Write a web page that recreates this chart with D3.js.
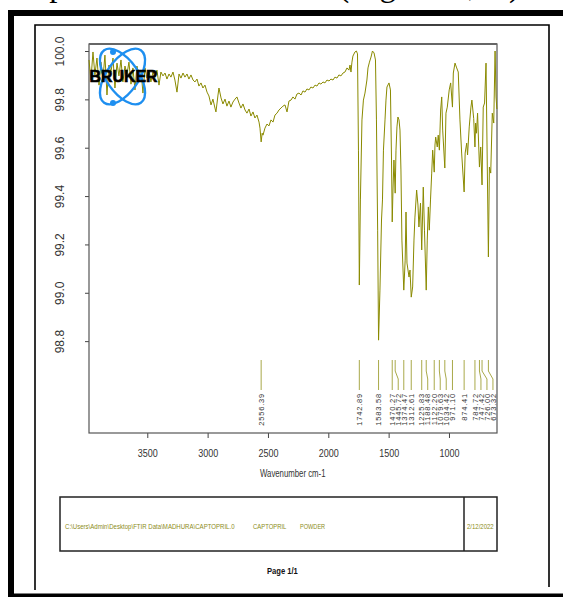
<!DOCTYPE html>
<html>
<head>
<meta charset="utf-8">
<script src="https://cdn.jsdelivr.net/npm/d3@7"></script>
<style>
body { margin: 0; background: #fff; }
svg { display: block; font-family: "Liberation Sans", Arial, sans-serif; }
</style>
</head>
<body>
<div id="chart"></div>
<script>
// FTIR spectrum of captopril
var wavenumbers = [3983, 3967, 3950, 3934, 3917, 3900, 3884, 3867, 3851, 3834, 3818, 3801, 3784, 3768, 3751, 3735,
	3718, 3702, 3685, 3668, 3652, 3635, 3619, 3602, 3586, 3569, 3552, 3536, 3519, 3503, 3486, 3470, 3453, 3436,
	3420, 3403, 3387, 3370, 3353, 3337, 3320, 3304, 3287, 3271, 3254, 3237, 3221, 3204, 3188, 3171, 3155, 3138,
	3121, 3105, 3088, 3072, 3055, 3039, 3022, 3005, 2989, 2972, 2956, 2939, 2931, 2914, 2906, 2889, 2873, 2856,
	2840, 2823, 2807, 2790, 2773, 2757, 2740, 2724, 2707, 2690, 2674, 2657, 2641, 2624, 2608, 2591, 2574, 2566,
	2556.39, 2548, 2541, 2525, 2508, 2492, 2475, 2458, 2442, 2425, 2409, 2392, 2376, 2359, 2342, 2326, 2309, 2293,
	2276, 2260, 2243, 2226, 2210, 2193, 2177, 2160, 2144, 2127, 2110, 2094, 2077, 2061, 2044, 2028, 2011, 1994,
	1978, 1961, 1945, 1928, 1912, 1895, 1878, 1862, 1845, 1829, 1820, 1812, 1804, 1796, 1779, 1767, 1758, 1750,
	1742.89, 1734, 1721, 1709, 1696, 1680, 1671, 1659, 1646, 1634, 1621, 1609, 1601, 1591, 1583.58, 1572, 1559,
	1551, 1543, 1530, 1522, 1514, 1497, 1485, 1476, 1470.27, 1464, 1456, 1445.72, 1439, 1431, 1423, 1414, 1406,
	1398, 1390, 1374.47, 1363, 1356, 1348, 1331, 1323, 1312.61, 1301, 1290, 1282, 1268, 1257, 1249, 1236, 1225.83,
	1213, 1203, 1188.48, 1180, 1171, 1163, 1153, 1143, 1135, 1122.20, 1116, 1110, 1097, 1089, 1079.63, 1069, 1060,
	1052, 1034.42, 1025, 1014, 998, 986, 971.10, 964, 950, 936, 923, 909, 895, 874.41, 866, 853, 846, 832, 818,
	810, 795, 784.72, 779, 772, 763, 747.42, 737, 726.00, 716, 705, 693, 673.32, 665, 654, 641, 629, 618, 610, 603];

var transmittance = [99.963, 99.880, 99.996, 99.901, 99.971, 99.859, 99.954, 99.888, 99.983, 99.818, 99.942, 99.913,
	99.971, 99.847, 99.950, 99.897, 99.963, 99.872, 99.938, 99.905, 99.954, 99.863, 99.930, 99.839, 99.938, 99.901,
	99.921, 99.826, 99.930, 99.888, 99.921, 99.872, 99.913, 99.892, 99.921, 99.859, 99.913, 99.897, 99.909, 99.884,
	99.905, 99.892, 99.913, 99.880, 99.830, 99.905, 99.888, 99.909, 99.892, 99.905, 99.884, 99.901, 99.880, 99.872,
	99.884, 99.855, 99.868, 99.847, 99.859, 99.830, 99.814, 99.777, 99.801, 99.764, 99.748, 99.818, 99.847, 99.806,
	99.781, 99.801, 99.772, 99.793, 99.768, 99.789, 99.801, 99.810, 99.785, 99.764, 99.781, 99.756, 99.743, 99.760,
	99.731, 99.748, 99.723, 99.735, 99.706, 99.681, 99.624, 99.660, 99.652, 99.681, 99.698, 99.690, 99.715, 99.706,
	99.735, 99.743, 99.756, 99.764, 99.772, 99.777, 99.748, 99.793, 99.797, 99.810, 99.801, 99.822, 99.826, 99.818,
	99.835, 99.830, 99.843, 99.839, 99.851, 99.847, 99.859, 99.855, 99.868, 99.863, 99.872, 99.868, 99.880, 99.876,
	99.884, 99.880, 99.892, 99.888, 99.901, 99.897, 99.909, 99.913, 99.930, 99.921, 99.942, 99.913, 99.954, 99.979,
	99.996, 100.000, 99.988, 99.590, 99.032, 99.384, 99.715, 99.797, 99.826, 99.880, 99.930, 99.954, 99.975, 100.000,
	99.992, 99.963, 99.715, 99.259, 98.804, 99.011, 99.301, 99.384, 99.590, 99.715, 99.797, 99.851, 99.868, 99.839,
	99.549, 99.293, 99.425, 99.549, 99.412, 99.590, 99.686, 99.727, 99.715, 99.673, 99.508, 99.218, 99.011, 99.135,
	99.334, 99.123, 99.065, 99.094, 98.982, 99.024, 99.218, 99.313, 99.425, 99.363, 99.272, 99.371, 99.177, 99.437,
	99.259, 99.011, 99.218, 99.355, 99.259, 99.384, 99.495, 99.590, 99.499, 99.611, 99.644, 99.603, 99.652, 99.590,
	99.756, 99.810, 99.673, 99.516, 99.743, 99.768, 99.839, 99.868, 99.768, 99.909, 99.950, 99.930, 99.913, 99.715,
	99.578, 99.417, 99.578, 99.619, 99.570, 99.686, 99.768, 99.797, 99.720, 99.603, 99.702, 99.660, 99.743, 99.520,
	99.603, 99.446, 99.768, 99.785, 99.950, 99.148, 99.520, 99.495, 99.743, 99.702, 100.000, 99.810, 99.760];

var peakLabels = ["2556.39", "1742.89", "1583.58", "1470.27", "1445.72", "1374.47", "1312.61", "1225.83",
	"1188.48", "1122.20", "1079.63", "1034.42", "971.10", "874.41", "784.72", "747.42", "726.00", "673.32"];

var xTicks = [3500, 3000, 2500, 2000, 1500, 1000];
var yTicks = [100.0, 99.8, 99.6, 99.4, 99.2, 99.0, 98.8];

var footerTexts = ["C:\\Users\\Admin\\Desktop\\FTIR Data\\MADHURA\\CAPTOPRIL.0", "CAPTOPRIL", "POWDER", "2/12/2022"];

var width = 563,
    height = 597;

var olive = "#8a8a00";

var svg = d3.select("#chart").append("svg")
    .attr("width", width)
    .attr("height", height);

// cut-off line of the surrounding document
svg.append("text")
    .attr("x", 30)
    .attr("y", -4)
    .attr("textLength", 490)
    .attr("lengthAdjust", "spacing")
    .style("font-family", "'Liberation Serif', 'Times New Roman', serif")
    .style("font-size", "33px")
    .text("Spectrum of standard (Figure 1, A)");

// page borders
svg.append("path")
    .attr("d", "M11,597V13H563")
    .attr("fill", "none")
    .attr("stroke", "#000")
    .attr("stroke-width", 6);

svg.append("line")
    .attr("x1", 8).attr("x2", 563)
    .attr("y1", 595.5).attr("y2", 595.5)
    .attr("stroke", "#000")
    .attr("stroke-width", 4);

svg.append("path")
    .attr("d", "M35,590V25H549V587")
    .attr("fill", "none")
    .attr("stroke", "#000")
    .attr("stroke-width", 1.6);

// scales
var x = d3.scaleLinear()
    .domain([3983, 602])
    .range([89, 497]);

var y = d3.scaleLinear()
    .domain([98.42, 100.029])
    .range([433, 44]);

// y axis
var yAxis = svg.append("g")
    .attr("transform", "translate(89,0)")
    .call(d3.axisLeft(y).tickValues(yTicks).tickSize(4).tickFormat(d3.format(".1f")));

yAxis.select(".domain").remove();
yAxis.selectAll("line").attr("stroke", "#444");
yAxis.selectAll("text")
    .attr("x", 0)
    .attr("dy", "0.36em")
    .attr("text-anchor", "middle")
    .attr("transform", "translate(-29,0) rotate(-90)")
    .attr("fill", "#333")
    .style("font-size", "12px")
    .style("font-family", "'Liberation Sans', Arial, sans-serif");

// x axis
var xAxis = svg.append("g")
    .attr("transform", "translate(0,433)")
    .call(d3.axisBottom(x).tickValues(xTicks).tickSize(5).tickFormat(d3.format("d")));

xAxis.select(".domain").remove();
xAxis.selectAll("line").attr("stroke", "#444");
xAxis.selectAll("text")
    .attr("y", 24)
    .attr("dy", 0)
    .attr("transform", "scale(0.9,1)")
    .attr("fill", "#333")
    .style("font-size", "10px")
    .style("font-family", "'Liberation Sans', Arial, sans-serif");

svg.append("text")
    .attr("transform", "translate(260,477) scale(0.78,1)")
    .attr("fill", "#333")
    .style("font-size", "10px")
    .text("Wavenumber cm-1");

// plot frame
svg.append("rect")
    .attr("x", 89)
    .attr("y", 44)
    .attr("width", 408)
    .attr("height", 389)
    .attr("fill", "none")
    .attr("stroke", "#555")
    .attr("stroke-width", 1.2);

svg.append("line")
    .attr("x1", 89).attr("x2", 497)
    .attr("y1", 44).attr("y2", 44)
    .attr("stroke", "#666")
    .attr("stroke-width", 2);

// spectrum
var points = wavenumbers.map(function(w, i) { return [w, transmittance[i]]; });

var line = d3.line()
    .x(function(d) { return x(d[0]); })
    .y(function(d) { return y(d[1]); });

svg.append("path")
    .datum(points)
    .attr("d", line)
    .attr("fill", "none")
    .attr("stroke", olive)
    .attr("stroke-width", 1)
    .attr("stroke-linejoin", "round");

// peak picks, pushed apart when they crowd
var minGap = 6;
var peaks = peakLabels.map(function(s) { return {label: s, px: x(+s)}; });
peaks.sort(function(a, b) { return a.px - b.px; });
peaks.forEach(function(p, i) {
	p.lx = i === 0 ? p.px : Math.max(p.px, peaks[i - 1].lx + minGap);
});

var pk = svg.append("g").attr("class", "peaks");

pk.selectAll("path")
    .data(peaks)
    .enter().append("path")
    .attr("d", function(d) {
    	if (Math.abs(d.lx - d.px) < 0.5) return "M" + d.px + ",360V390";
    	return "M" + d.px + ",360V371L" + d.lx + ",379V390";
    })
    .attr("fill", "none")
    .attr("stroke", "#a9a94a")
    .attr("stroke-width", 1);

pk.selectAll("text")
    .data(peaks)
    .enter().append("text")
    .attr("transform", function(d) { return "translate(" + d.lx + ",393) rotate(-90)"; })
    .attr("text-anchor", "end")
    .attr("dy", "0.35em")
    .attr("fill", "#333")
    .style("font-size", "7.5px")
    .style("letter-spacing", "0.8px")
    .text(function(d) { return d.label; });

// Bruker logo
var logo = svg.append("g")
    .attr("transform", "translate(122.5,76.5)");

[55, -55].forEach(function(a) {
	logo.append("ellipse")
	    .attr("rx", 32)
	    .attr("ry", 16)
	    .attr("transform", "rotate(" + a + ")")
	    .attr("fill", "none")
	    .attr("stroke", "#1e8ff0")
	    .attr("stroke-width", 2.4);
});

[[-9.5, -24.5], [-9.5, 26.5]].forEach(function(c) {
	logo.append("circle")
	    .attr("cx", c[0])
	    .attr("cy", c[1])
	    .attr("r", 3)
	    .attr("fill", "#1e8ff0");
});

logo.append("text")
    .attr("x", -33)
    .attr("y", 5.5)
    .attr("textLength", 68)
    .attr("lengthAdjust", "spacingAndGlyphs")
    .attr("fill", "#000")
    .attr("stroke", "#000")
    .attr("stroke-width", 0.6)
    .style("font-size", "16px")
    .style("font-weight", "bold")
    .text("BRUKER");

// footer box
svg.append("rect")
    .attr("x", 60)
    .attr("y", 497)
    .attr("width", 437)
    .attr("height", 54)
    .attr("fill", "none")
    .attr("stroke", "#222")
    .attr("stroke-width", 1.5);

svg.append("line")
    .attr("x1", 464).attr("x2", 464)
    .attr("y1", 497).attr("y2", 551)
    .attr("stroke", "#222")
    .attr("stroke-width", 1.5);

var footerX = [65, 253, 300, 467],
    footerScale = [0.76, 0.74, 0.7, 0.75];

footerTexts.forEach(function(t, i) {
	svg.append("text")
	    .attr("transform", "translate(" + footerX[i] + ",528.5) scale(" + footerScale[i] + ",1)")
	    .attr("fill", "#8c8c1a")
	    .style("font-size", "8px")
	    .text(t);
});

svg.append("text")
    .attr("transform", "translate(267,574) scale(0.8,1)")
    .attr("fill", "#111")
    .style("font-size", "9.5px")
    .style("font-weight", "bold")
    .text("Page 1/1");
</script>
</body>
</html>
